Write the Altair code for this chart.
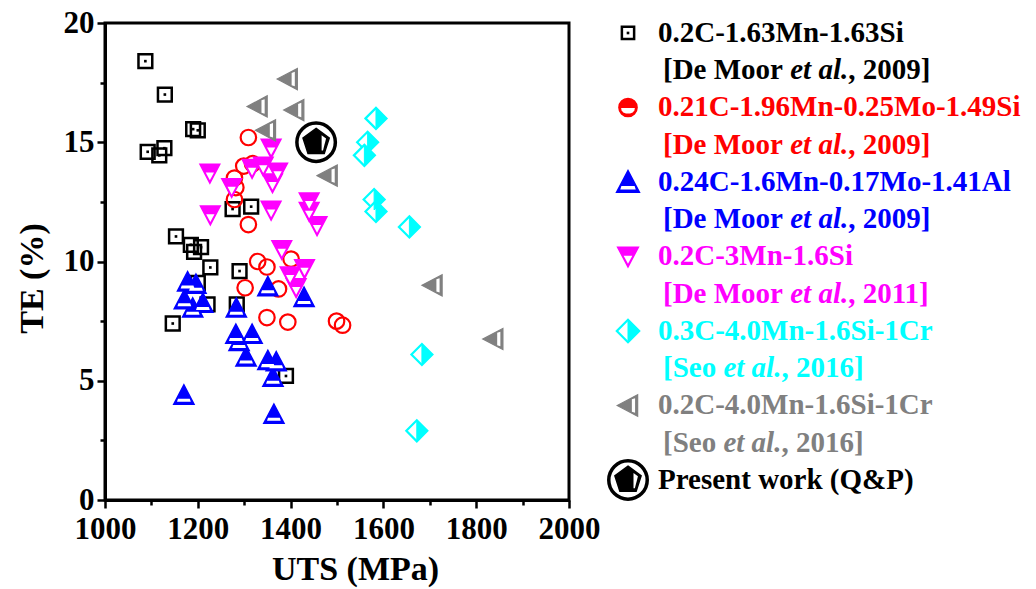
import altair as alt
import pandas as pd

FONT = "Liberation Serif"

# ---------------- data ----------------
sq_uts = [1087, 1129, 1190, 1200, 1092, 1117, 1128, 1275, 1315, 1153, 1185, 1207, 1192, 1227, 1290, 1200, 1221, 1284, 1146, 1390]
sq_te = [18.4, 17.0, 15.55, 15.5, 14.6, 14.45, 14.75, 12.2, 12.3, 11.05, 10.7, 10.6, 10.4, 9.75, 9.6, 9.1, 8.2, 8.2, 7.4, 5.2]

ci_uts = [1309, 1299, 1318, 1279, 1282, 1279, 1309, 1329, 1349, 1401, 1302, 1374, 1349, 1394, 1499, 1512]
ci_te = [15.2, 14.0, 14.1, 13.5, 13.1, 12.6, 11.55, 10.0, 9.77, 10.1, 8.9, 8.85, 7.65, 7.46, 7.5, 7.33]

tu_uts = [1178, 1196, 1171, 1189, 1211, 1283, 1351, 1429, 1282, 1289, 1317, 1304, 1351, 1369, 1362, 1170, 1364]
tu_te = [9.15, 9.05, 8.4, 8.05, 8.25, 8.05, 8.95, 8.5, 6.95, 6.65, 6.95, 6.0, 5.85, 5.8, 5.15, 4.4, 3.6]

td_uts = [1226, 1358, 1317, 1341, 1372, 1361, 1273, 1227, 1358, 1440, 1440, 1457, 1381, 1430, 1399, 1412]
td_te = [13.7, 14.75, 13.9, 14.0, 13.75, 13.3, 13.1, 11.95, 12.15, 12.5, 12.1, 11.5, 10.5, 9.7, 9.4, 8.9]

di_uts = [1584, 1566, 1559, 1580, 1584, 1656, 1683, 1672]
di_te = [16.0, 15.0, 14.45, 12.6, 12.1, 11.45, 6.1, 2.9]

tl_uts = [1394, 1329, 1408, 1347, 1480, 1706, 1837]
tl_te = [17.65, 16.5, 16.35, 15.5, 13.6, 9.0, 6.75]

pw_uts = [1455]
pw_te = [15.0]

x_ticks = [1000, 1100, 1200, 1300, 1400, 1500, 1600, 1700, 1800, 1900, 2000]
y_ticks = [0, 2.5, 5, 7.5, 10, 12.5, 15, 17.5, 20]

legend_comp = ["0.2C-1.63Mn-1.63Si", "0.21C-1.96Mn-0.25Mo-1.49Si", "0.24C-1.6Mn-0.17Mo-1.41Al",
               "0.2C-3Mn-1.6Si", "0.3C-4.0Mn-1.6Si-1Cr", "0.2C-4.0Mn-1.6Si-1Cr"]
legend_ref_a = ["[De Moor ", "[De Moor ", "[De Moor ", "[De Moor ", "[Seo ", "[Seo "]
legend_ref_b = ["et al.", "et al.", "et al.", "et al.", "et al.", "et al."]
legend_ref_c = [", 2009]", ", 2009]", ", 2009]", ", 2011]", ", 2016]", ", 2016]"]
legend_colors = ["#000000", "#FF0000", "#0000FF", "#FF00FF", "#00FFFF", "#808080"]
present_label = "Present work (Q&P)"

# ---------------- marker shapes (unit coordinates) ----------------
TRI_UP = "M 0 -1 L 1 0.9 L -1 0.9 Z"
TRI_UP_STRIPE = "M -0.58 0.36 L 0.58 0.36 L 0.68 0.66 L -0.68 0.66 Z"
TRI_DOWN = "M -1 -0.9 L 1 -0.9 L 0 1 Z"
TRI_DOWN_IN = "M -0.42 -0.08 L 0.42 -0.08 L 0 0.7 Z"
DIAMOND = "M -1 0 L 0 -1 L 1 0 L 0 1 Z"
DIAMOND_R = "M 0 -1 L 1 0 L 0 1 Z"
TRI_LEFT = "M -1 0 L 0.9 -1 L 0.9 1 Z"
TRI_LEFT_IN = "M 0.36 -0.58 L 0.36 0.58 L 0.66 0.68 L 0.66 -0.68 Z"
PENTAGON = "M 0 -1 L 0.951 -0.309 L 0.588 0.809 L -0.588 0.809 L -0.951 -0.309 Z"
PENTA_IN = "M 0.4 -0.5 L 0.72 -0.28 L 0.5 0.6 L 0.4 0.6 Z"
CIRC_BAND = "M -0.76 0.06 L 0.76 0.06 L 0.7 0.34 L 0.52 0.54 L 0.22 0.66 L -0.22 0.66 L -0.52 0.54 L -0.7 0.34 Z"

RED, BLUE, MAG, CYAN, GRAY = "#FF0000", "#0000FF", "#FF00FF", "#00FFFF", "#808080"

# ---------------- main scatter ----------------
X = alt.X("uts:Q", scale=alt.Scale(domain=[1000, 2000], nice=False, zero=False),
          axis=alt.Axis(title="UTS (MPa)", values=x_ticks, grid=False,
                        labelExpr="datum.value % 200 === 0 ? '' + datum.value : ''",
                        tickSize={"condition": {"test": "datum.value % 200 === 0", "value": 8}, "value": 5},
                        labelFlush=False, labelOverlap=False, titleX=250,
                        labelPadding=6, titlePadding=8))
Y = alt.Y("te:Q", scale=alt.Scale(domain=[0, 20], nice=False, zero=False),
          axis=alt.Axis(title="TE (%)", values=y_ticks, grid=False,
                        labelExpr="datum.value % 5 === 0 ? '' + datum.value : ''",
                        tickSize={"condition": {"test": "datum.value % 5 === 0", "value": 8}, "value": 5},
                        labelFlush=False, labelOverlap=False, titleY=255,
                        labelPadding=3, titlePadding=14))


def frame(xs, ys):
    return pd.DataFrame({"uts": xs, "te": ys})


def pts(data, shape, size, fill=None, stroke=None, sw=0.0):
    kw = dict(shape=shape, size=size, opacity=1, strokeWidth=sw)
    if fill is None:
        kw["filled"] = False
        kw["fill"] = "transparent"
    else:
        kw["filled"] = True
        kw["fill"] = fill
    if stroke is not None:
        kw["stroke"] = stroke
    else:
        kw["strokeOpacity"] = 0
    return alt.Chart(data).mark_point(**kw).encode(x=X, y=Y)


d_sq = frame(sq_uts, sq_te)
d_ci = frame(ci_uts, ci_te)
d_tu = frame(tu_uts, tu_te)
d_td = frame(td_uts, td_te)
d_di = frame(di_uts, di_te)
d_tl = frame(tl_uts, tl_te)
d_pw = frame(pw_uts, pw_te)

main = alt.layer(
    pts(d_sq, "square", 190, stroke="black", sw=2.5),
    pts(d_sq, "square", 7, fill="black"),
    pts(d_ci, "circle", 240, stroke=RED, sw=2.2),
    pts(d_tu, TRI_UP, 410, fill=BLUE, stroke=BLUE, sw=1.5),
    pts(d_tu, TRI_UP_STRIPE, 410, fill="white"),
    pts(d_td, TRI_DOWN, 390, fill=MAG, stroke=MAG, sw=1.5),
    pts(d_td, TRI_DOWN_IN, 390, fill="white"),
    pts(d_di, DIAMOND, 440, fill="white", stroke=CYAN, sw=2.2),
    pts(d_di, DIAMOND_R, 440, fill=CYAN, stroke=CYAN, sw=1),
    pts(d_tl, TRI_LEFT, 450, fill=GRAY, stroke=GRAY, sw=1.2),
    pts(d_tl, TRI_LEFT_IN, 450, fill="white"),
    pts(d_pw, "circle", 1480, stroke="black", sw=3.5),
    pts(d_pw, PENTAGON, 760, fill="black", stroke="black", sw=1.5),
    pts(d_pw, PENTA_IN, 760, fill="white"),
).properties(width=464, height=477, view=alt.ViewBackground(stroke="black", strokeWidth=3))

# ---------------- hand-built legend ----------------
FS = 29
BOLD_W = {'[': 0.333, 'D': 0.722, 'e': 0.444, ' ': 0.25, 'M': 0.944, 'o': 0.5, 'r': 0.444,
          'S': 0.556, ',': 0.25, '0': 0.5, '1': 0.5, '2': 0.5, '6': 0.5, '9': 0.5, ']': 0.333}
ITAL_W = {'e': 0.444, 't': 0.278, ' ': 0.25, 'a': 0.5, 'l': 0.278, '.': 0.25}


def width(s, table):
    return sum(table.get(c, 0.5) for c in s) * FS


MX, TX1, TX2 = 22, 52, 57
rows_txt = []
for i, comp in enumerate(legend_comp):
    col = legend_colors[i]
    rows_txt.append(dict(row=2 * i, x=TX1, t=comp, c=col, st="normal"))
    a, b, c = legend_ref_a[i], legend_ref_b[i], legend_ref_c[i]
    rows_txt.append(dict(row=2 * i + 1, x=TX2, t=a.strip(), c=col, st="normal"))
    xb = TX2 + width(a, BOLD_W)
    rows_txt.append(dict(row=2 * i + 1, x=xb, t=b, c=col, st="italic"))
    xc = xb + width(b, ITAL_W)
    rows_txt.append(dict(row=2 * i + 1, x=xc, t=c, c=col, st="normal"))
rows_txt.append(dict(row=12, x=TX1, t=present_label, c="#000000", st="normal"))
txt_df = pd.DataFrame(rows_txt)

LY = alt.Y("row:Q", scale=alt.Scale(domain=[-0.268, 12.537], reverse=True, nice=False, zero=False), axis=None)


def text_layer(style):
    return alt.Chart(txt_df).transform_filter(f"datum.st === '{style}'").mark_text(
        font=FONT, fontSize=FS, fontWeight="bold", fontStyle=style, align="left", baseline="middle"
    ).encode(x=alt.X("x:Q", scale=None, axis=None), y=LY, text="t:N", color=alt.Color("c:N", scale=None))


def lpts(row, shape, size, fill=None, stroke=None, sw=0.0):
    kw = dict(shape=shape, size=size, opacity=1, strokeWidth=sw)
    if fill is None:
        kw["filled"] = False
        kw["fill"] = "transparent"
    else:
        kw["filled"] = True
        kw["fill"] = fill
    if stroke is not None:
        kw["stroke"] = stroke
    else:
        kw["strokeOpacity"] = 0
    return alt.Chart(pd.DataFrame({"row": [row]})).mark_point(**kw).encode(x=alt.value(MX), y=LY)


legend = alt.layer(
    lpts(0, "square", 150, stroke="black", sw=2.5),
    lpts(0, "square", 7, fill="black"),
    lpts(2, "circle", 330, fill=RED, stroke=RED, sw=1.5),
    lpts(2, CIRC_BAND, 330, fill="white"),
    lpts(4, TRI_UP, 520, fill=BLUE, stroke=BLUE, sw=1.5),
    lpts(4, TRI_UP_STRIPE, 520, fill="white"),
    lpts(6, TRI_DOWN, 430, fill=MAG, stroke=MAG, sw=1.5),
    lpts(6, TRI_DOWN_IN, 430, fill="white"),
    lpts(8, DIAMOND, 500, fill="white", stroke=CYAN, sw=2.2),
    lpts(8, DIAMOND_R, 500, fill=CYAN, stroke=CYAN, sw=1),
    lpts(10, TRI_LEFT, 460, fill=GRAY, stroke=GRAY, sw=1.2),
    lpts(10, TRI_LEFT_IN, 460, fill="white"),
    lpts(12, "circle", 1480, stroke="black", sw=3.5),
    lpts(12, PENTAGON, 760, fill="black", stroke="black", sw=1.5),
    lpts(12, PENTA_IN, 760, fill="white"),
    text_layer("normal"),
    text_layer("italic"),
).properties(width=425, height=477, view=alt.ViewBackground(strokeWidth=0))

chart = alt.hconcat(main, legend, spacing=37, bounds="flush").properties(
    padding={"left": 13, "top": 5, "right": 0, "bottom": 0}
).configure_axis(
    labelFont=FONT, labelFontSize=31, labelFontWeight="bold", labelColor="black",
    titleFont=FONT, titleFontSize=34, titleFontWeight="bold", titleColor="black",
    domainColor="black", domainWidth=3, tickColor="black", tickWidth=2.5,
).configure_view(stroke=None)

chart.save("out.html", embed_options={"renderer": "svg", "actions": False})
